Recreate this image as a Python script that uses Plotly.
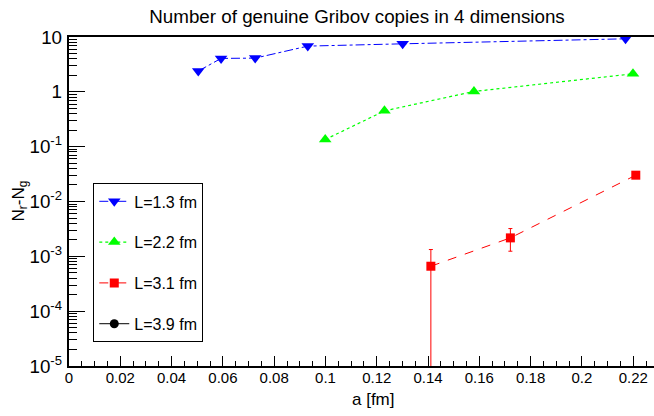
import plotly.graph_objects as go

# ---- data ----
a_13 = [0.0504, 0.0593, 0.0726, 0.0931, 0.1301, 0.2170]
n_13 = [2.39, 4.07, 4.12, 6.82, 7.51, 9.27]

a_22 = [0.0999, 0.1230, 0.1579, 0.2199]
n_22 = [0.135, 0.45, 1.016, 2.13]

a_31 = [0.1411, 0.1721, 0.2210]
n_31 = [6.6e-4, 2.17e-3, 3.02e-2]
err_up_31 = [6.7e-4, 1.04e-3, 3.0e-3]
err_dn_31 = [6.7e-4, 0.93e-3, 3.0e-3]

# L=3.9 fm has no visible points (legend entry only)
a_39 = [None]
n_39 = [None]

labels = ["L=1.3 fm", "L=2.2 fm", "L=3.1 fm", "L=3.9 fm"]
neg_exponents = [1, 2, 3, 4, 5]

FONT = "Liberation Sans, Arial, Helvetica, sans-serif"

fig = go.Figure()

fig.add_trace(go.Scatter(
    x=a_13, y=n_13, name=labels[0], legendgroup="g1", mode="lines+markers",
    line=dict(color="#0000ff", width=1, dash="dashdot"),
    marker=dict(symbol="triangle-down", size=11, color="#0000ff")))

fig.add_trace(go.Scatter(
    x=a_22, y=n_22, name=labels[1], legendgroup="g2", mode="lines+markers",
    line=dict(color="#00ff00", width=1.2, dash="dot"),
    marker=dict(symbol="triangle-up", size=11, color="#00ff00")))

fig.add_trace(go.Scatter(
    x=a_31, y=n_31, name=labels[2], legendgroup="g3", mode="lines+markers",
    line=dict(color="#ff0000", width=1, dash="dash"),
    marker=dict(symbol="square", size=9, color="#ff0000"),
    error_y=dict(type="data", array=err_up_31, arrayminus=err_dn_31,
                 color="#ff0000", thickness=1, width=2)))

fig.add_trace(go.Scatter(
    x=a_39, y=n_39, name=labels[3], legendgroup="g4", mode="lines+markers",
    line=dict(color="#000000", width=1),
    marker=dict(symbol="circle", size=9, color="#000000")))

# use a plain hyphen in the exponent labels, as in the reference
alias = {"10<sup>\u2212%d</sup>" % e: "10<sup>-%d</sup>" % e for e in neg_exponents}

fig.update_layout(
    width=654, height=416,
    margin=dict(l=69, r=0, t=37, b=50),
    paper_bgcolor="white", plot_bgcolor="white",
    font=dict(family=FONT, size=15, color="black"),
    title=dict(text="Number of genuine Gribov copies in 4 dimensions",
               x=357 / 654, xanchor="center", xref="container",
               y=1 - 16 / 416, yanchor="middle", yref="container",
               font=dict(size=18.8, family=FONT, color="black")),
    showlegend=True,
    legend=dict(x=0.0415, y=0.555, xanchor="left", yanchor="top",
                bordercolor="black", borderwidth=1, bgcolor="white",
                font=dict(size=16, family=FONT), tracegroupgap=17,
                itemsizing="trace"),
    xaxis=dict(range=[0, 0.2281], showgrid=False, zeroline=False,
               showline=True, linecolor="black", linewidth=2, mirror=True,
               ticks="inside", ticklen=10, tickwidth=1, tickcolor="black",
               tickmode="linear", tick0=0, dtick=0.02,
               minor=dict(ticks="inside", ticklen=5, dtick=0.005, tick0=0,
                          tickcolor="black", tickwidth=1, showgrid=False),
               tickfont=dict(size=15), ticklabelstandoff=-3),
    yaxis=dict(type="log", range=[-5, 1], showgrid=False, zeroline=False,
               showline=True, linecolor="black", linewidth=2, mirror=False,
               ticks="inside", ticklen=16, tickwidth=1, tickcolor="black",
               tickmode="linear", tick0=0, dtick=1, exponentformat="power",
               labelalias=alias,
               minor=dict(ticks="inside", ticklen=8, dtick="D1",
                          tickcolor="black", tickwidth=1, showgrid=False),
               tickfont=dict(size=15), ticklabelstandoff=2),
)

fig.add_annotation(text="a [fm]", xref="paper", yref="paper",
                   x=(373 - 69) / 585, y=(366 - 399) / 329,
                   xanchor="center", yanchor="middle", showarrow=False,
                   font=dict(size=17, family=FONT))
fig.add_annotation(text="N<sub>r</sub>-N<sub>g</sub>", xref="paper", yref="paper",
                   x=(19 - 69) / 585, y=0.5, textangle=-90,
                   xanchor="center", yanchor="middle", showarrow=False,
                   font=dict(size=17, family=FONT))

fig.write_html("out.html")
